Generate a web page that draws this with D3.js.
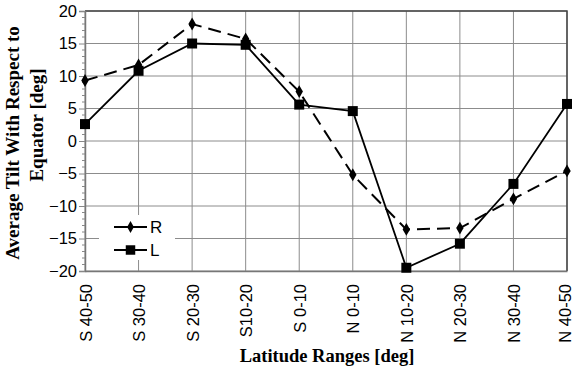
<!DOCTYPE html>
<html>
<head>
<meta charset="utf-8">
<script src="https://cdn.jsdelivr.net/npm/d3@7/dist/d3.min.js"></script>
<style>
  html, body { margin: 0; padding: 0; background: #fff; }
  svg { display: block; }
</style>
</head>
<body>
<svg id="chart" width="575" height="371"></svg>
<script>
// Latitude bands and mean tilt per hemisphere group
const categories = ["S 40-50", "S 30-40", "S 20-30", "S10-20", "S 0-10",
                    "N 0-10", "N 10-20", "N 20-30", "N 30-40", "N 40-50"];
const seriesR = [9.3, 11.7, 18.0, 15.7, 7.6, -5.2, -13.6, -13.4, -8.9, -4.6];
const seriesL = [2.6, 10.8, 15.0, 14.8, 5.6, 4.6, -19.5, -15.8, -6.6, 5.7];
const yTicks = [20, 15, 10, 5, 0, -5, -10, -15, -20];
const legendNames = ["R", "L"];

const svg = d3.select("#chart");
const plotLeft = 85, plotRight = 567, plotTop = 11, plotBottom = 271;
const sans = "Liberation Sans, Arial, sans-serif";
const serif = "Liberation Serif, Times New Roman, serif";

const x = d3.scalePoint().domain(categories).range([plotLeft, plotRight]);
const y = d3.scaleLinear().domain([-20, 20]).range([plotBottom, plotTop]);

const grid = svg.append("g");
// horizontal grid
grid.selectAll("line.h").data(yTicks).join("line").attr("class", "h")
  .attr("x1", plotLeft).attr("x2", plotRight)
  .attr("y1", d => y(d)).attr("y2", d => y(d))
  .attr("stroke", "#8c8c8c").attr("stroke-width", 1);
// vertical grid
grid.selectAll("line.v").data(categories).join("line").attr("class", "v")
  .attr("x1", d => x(d)).attr("x2", d => x(d))
  .attr("y1", plotTop).attr("y2", plotBottom)
  .attr("stroke", "#8c8c8c").attr("stroke-width", 1);

// legend backdrop (hides grid behind it)
svg.append("rect")
  .attr("x", 99).attr("y", 215).attr("width", 76).attr("height", 45)
  .attr("fill", "#fff");

// frame: top and right edges
svg.append("path")
  .attr("d", `M${plotLeft},${plotTop}H${plotRight}V${plotBottom}`)
  .attr("fill", "none").attr("stroke", "#444").attr("stroke-width", 1.5);

// y axis with minor ticks
const yAxis = d3.axisLeft(y).tickValues(yTicks).tickSize(6).tickPadding(2)
  .tickFormat(d3.format("d"));
const gy = svg.append("g").attr("transform", `translate(${plotLeft},0)`).call(yAxis);
gy.select(".domain").attr("stroke", "#777").attr("stroke-width", 1.5);
gy.selectAll(".tick line").attr("stroke", "#888");
gy.selectAll("text")
  .attr("font-family", sans).attr("font-size", 16.5).attr("fill", "#000");
const minor = d3.range(-20, 21).filter(v => v % 5 !== 0);
svg.append("g").selectAll("line").data(minor).join("line")
  .attr("x1", plotLeft - 3).attr("x2", plotLeft)
  .attr("y1", d => y(d)).attr("y2", d => y(d))
  .attr("stroke", "#888");

// x axis, vertical labels (the rightmost one nudged to stay inside the page)
const xAxis = d3.axisBottom(x).tickSize(0).tickPadding(0);
const gx = svg.append("g").attr("transform", `translate(0,${plotBottom})`).call(xAxis);
gx.select(".domain").attr("stroke", "#777").attr("stroke-width", 1.5);
const lastCat = categories[categories.length - 1];
gx.selectAll("text")
  .attr("font-family", sans).attr("font-size", 16.5).attr("fill", "#000")
  .attr("text-anchor", "end")
  .attr("dy", "0.37em")
  .attr("transform", d => `translate(${d === lastCat ? -3 : 0},13) rotate(-90)`)
  .attr("x", 0).attr("y", 0);

// series lines
const line = d3.line().x((d, i) => x(categories[i])).y(d => y(d));
svg.append("path").datum(seriesR).attr("d", line)
  .attr("fill", "none").attr("stroke", "#000").attr("stroke-width", 2)
  .attr("stroke-dasharray", "13,7");
svg.append("path").datum(seriesL).attr("d", line)
  .attr("fill", "none").attr("stroke", "#000").attr("stroke-width", 1.8);

// markers
const diamond = d3.symbol().type(d3.symbolDiamond).size(48);
const square = d3.symbol().type(d3.symbolSquare).size(100);
svg.append("g").selectAll("path").data(seriesR).join("path")
  .attr("d", diamond)
  .attr("transform", (d, i) => `translate(${x(categories[i])},${y(d)})`)
  .attr("fill", "#000");
svg.append("g").selectAll("path").data(seriesL).join("path")
  .attr("d", square)
  .attr("transform", (d, i) => `translate(${x(categories[i])},${y(d)})`)
  .attr("fill", "#000");

// legend
const leg = svg.append("g");
const legY = [227, 250];
const legSym = [d3.symbol().type(d3.symbolDiamond).size(40), d3.symbol().type(d3.symbolSquare).size(90)];
legendNames.forEach((name, i) => {
  leg.append("line").attr("x1", 114).attr("x2", 147)
    .attr("y1", legY[i]).attr("y2", legY[i])
    .attr("stroke", "#000").attr("stroke-width", 2);
  leg.append("path").attr("d", legSym[i])
    .attr("transform", `translate(130.5,${legY[i]})`).attr("fill", "#000");
  leg.append("text").attr("x", 150).attr("y", legY[i]).attr("dy", "0.36em")
    .attr("font-family", sans).attr("font-size", 17).text(name);
});

// axis titles
svg.append("text")
  .attr("x", 327).attr("y", 362).attr("text-anchor", "middle")
  .attr("font-family", serif).attr("font-weight", "bold").attr("font-size", 18.5)
  .text("Latitude Ranges [deg]");
svg.append("text")
  .attr("transform", "translate(19,143) rotate(-90)")
  .attr("text-anchor", "middle")
  .attr("font-family", serif).attr("font-weight", "bold").attr("font-size", 19)
  .text("Average Tilt With Respect to");
svg.append("text")
  .attr("transform", "translate(43,125) rotate(-90)")
  .attr("text-anchor", "middle")
  .attr("font-family", serif).attr("font-weight", "bold").attr("font-size", 19)
  .text("Equator [deg]");
</script>
</body>
</html>
